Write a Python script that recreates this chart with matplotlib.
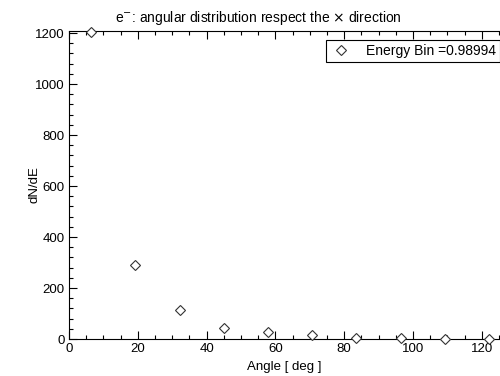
import matplotlib.pyplot as plt
from matplotlib.ticker import MultipleLocator

plt.rcParams['font.family'] = ['Liberation Sans', 'DejaVu Sans']

# angle bin centres [deg] and dN/dE counts
angle = [6.43, 19.29, 32.14, 45.0, 57.86, 70.71, 83.57, 96.43, 109.29, 122.14]
dnde = [1205, 290, 114, 44, 26, 16, 3, 2, 1, 1]
legend_label = 'Energy Bin =0.98994'

fig = plt.figure(figsize=(5.0, 3.76), dpi=100)
ax = fig.add_axes([0.138, 0.0984, 0.862, 0.8192])

ax.plot(angle, dnde, linestyle='none', marker='D', markersize=5.5,
        markerfacecolor='white', markeredgecolor='#333333', markeredgewidth=0.8,
        label=legend_label, clip_on=False, zorder=3)

ax.set_xlim(0, 125.3)
ax.set_ylim(0, 1208)
ax.xaxis.set_major_locator(MultipleLocator(20))
ax.xaxis.set_minor_locator(MultipleLocator(5))
ax.yaxis.set_major_locator(MultipleLocator(200))
ax.yaxis.set_minor_locator(MultipleLocator(40))
ax.tick_params(which='both', direction='in', top=True, right=False,
               labelsize=9.5, width=0.8, pad=3)
ax.tick_params(which='major', length=6)
ax.tick_params(which='minor', length=3)
ax.spines['right'].set_visible(False)
for s in ['left', 'bottom', 'top']:
    ax.spines[s].set_linewidth(0.8)

ax.set_xlabel('Angle [ deg ]', fontsize=9.5)
ax.set_ylabel('dN/dE', fontsize=9.5)
ax.xaxis.set_label_coords(0.5, -0.072)
ax.yaxis.set_label_coords(-0.067, 0.5)
fig.text(0.516, 0.952, r'e$^{-}$: angular distribution respect the $\times$ direction',
         fontsize=10, ha='center', va='center')

leg = ax.legend(loc='upper right', bbox_to_anchor=(1.01, 0.985), fontsize=10,
                frameon=True, fancybox=False, edgecolor='black', framealpha=1,
                handletextpad=1.0, borderpad=0.3, handlelength=1.6,
                borderaxespad=0.3)
leg.get_frame().set_linewidth(0.8)

fig.savefig('out.png', dpi=100)
